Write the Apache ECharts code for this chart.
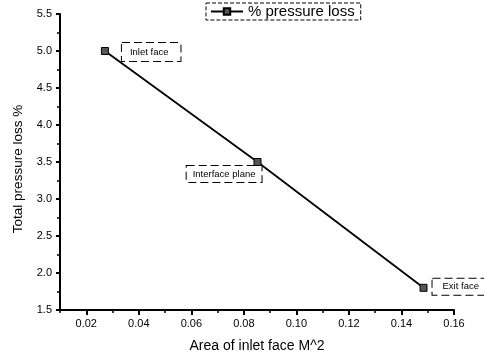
<!DOCTYPE html>
<html><head><meta charset="utf-8">
<script src="https://cdn.jsdelivr.net/npm/echarts@6/dist/echarts.min.js"></script>
<style>html,body{margin:0;padding:0;background:#fff}#c{width:484px;height:356px}</style>
</head><body><div id="c"></div>
<script>
const areas = [0.0271, 0.0852, 0.1484];
const losses = [5.0, 3.5, 1.8];
const pointNames = ['Inlet face', 'Interface plane', 'Exit face'];
const seriesName = '% pressure loss';
const xMajorTicks = [0.02, 0.04, 0.06, 0.08, 0.10, 0.12, 0.14, 0.16];
const xMinorTicks = [0.01, 0.03, 0.05, 0.07, 0.09, 0.11, 0.13, 0.15];
const xRange = {min: 0.01, max: 0.16};
const yTicks = {min: 1.5, max: 5.5, interval: 0.5};

const labelCfg = [
  {position: 'right', offset: [8, 1], padding: [4, 12, 4, 8]},
  {position: 'left', offset: [13, 12], padding: [3, 6, 3, 6]},
  {position: 'right', offset: [0, -1], padding: [3, 8, 3, 10]}
];
const font = 'Liberation Sans, Arial, sans-serif';
const chart = echarts.init(document.getElementById('c'));
chart.setOption({
  animation: false,
  backgroundColor: '#fff',
  textStyle: {fontFamily: font},
  grid: {left: 60, right: 30, top: 14, bottom: 46, outerBoundsMode: 'none', containLabel: false},
  legend: {
    left: 206, top: 3,
    padding: [1, 6, 1, 4],
    borderColor: '#000', borderWidth: 1, borderType: 'dashed',
    itemWidth: 32, itemHeight: 8, itemGap: 4,
    textStyle: {fontSize: 15, color: '#000', fontFamily: font},
    data: [seriesName]
  },
  graphic: [{
    type: 'text',
    x: 18, y: 169,
    rotation: Math.PI / 2,
    style: {text: 'Total pressure loss %', fill: '#000', font: '13.5px Liberation Sans, Arial, sans-serif',
      textAlign: 'center', textVerticalAlign: 'middle'}
  }],
  xAxis: [{
    type: 'value', min: xRange.min, max: xRange.max,
    name: 'Area of inlet face M^2', nameLocation: 'middle', nameGap: 29,
    nameTextStyle: {fontSize: 14, color: '#000'},
    axisLine: {lineStyle: {color: '#000', width: 2}},
    axisTick: {show: true, inside: false, length: 5, lineStyle: {width: 2, color: '#000'}, customValues: xMajorTicks},
    splitLine: {show: false},
    axisLabel: {fontSize: 11, color: '#000', margin: 8, customValues: xMajorTicks,
      formatter: v => v.toFixed(2)}
  }, {
    type: 'value', min: xRange.min, max: xRange.max, position: 'bottom',
    axisLine: {show: false},
    axisTick: {show: true, inside: false, length: 3, lineStyle: {width: 1.5, color: '#000'}, customValues: xMinorTicks},
    splitLine: {show: false},
    axisLabel: {show: false}
  }],
  yAxis: {
    type: 'value', min: yTicks.min, max: yTicks.max, interval: yTicks.interval,
    axisLine: {show: true, lineStyle: {color: '#000', width: 2}},
    axisTick: {show: true, inside: false, length: 4, lineStyle: {width: 2, color: '#000'}},
    minorTick: {show: true, splitNumber: 2, length: 3, lineStyle: {color: '#000', width: 1.5}},
    splitLine: {show: false},
    axisLabel: {fontSize: 11, color: '#000', margin: 8, formatter: v => v.toFixed(1)}
  },
  series: [{
    name: seriesName, type: 'line', xAxisIndex: 0,
    symbol: 'rect', symbolSize: 7,
    itemStyle: {color: '#555', borderColor: '#000', borderWidth: 1},
    lineStyle: {color: '#000', width: 1.8},
    data: areas.map((x, i) => ({
      value: [x, losses[i]],
      label: {
        show: true, formatter: pointNames[i], fontSize: 9.5, color: '#000',
        position: labelCfg[i].position, offset: labelCfg[i].offset,
        borderColor: '#000', borderWidth: 1, borderType: 'dashed',
        padding: labelCfg[i].padding, backgroundColor: '#fff'
      }
    }))
  }]
});
</script></body></html>
